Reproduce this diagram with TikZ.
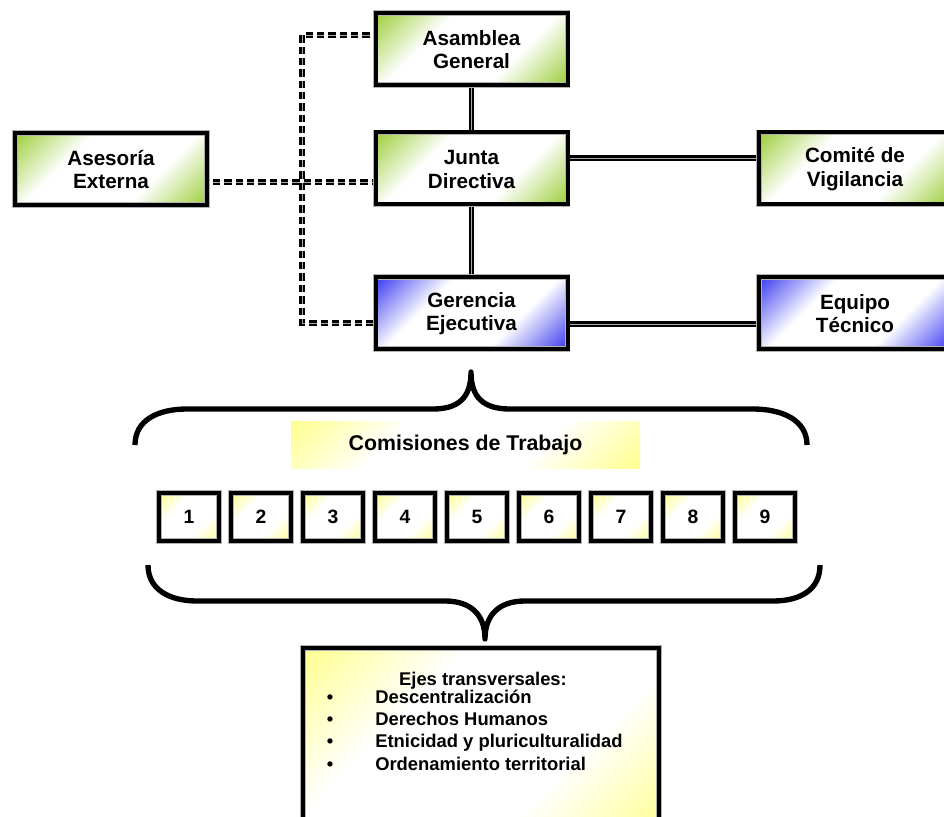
\documentclass[tikz,border=0pt]{standalone}
\usepackage{fontspec}
\setmainfont{Liberation Sans}
\definecolor{grn}{RGB}{153,204,51}
\definecolor{blu}{RGB}{51,51,240}
\definecolor{yel}{RGB}{255,255,140}
\pgfdeclarehorizontalshading{gshade}{100bp}{color(0bp)=(grn); color(14bp)=(grn); color(36bp)=(white); color(64bp)=(white); color(86bp)=(grn); color(100bp)=(grn)}
\pgfdeclarehorizontalshading{bshade}{100bp}{color(0bp)=(blu); color(14bp)=(blu); color(36bp)=(white); color(64bp)=(white); color(86bp)=(blu); color(100bp)=(blu)}
\pgfdeclarehorizontalshading{yshade}{100bp}{color(0bp)=(yel); color(14bp)=(yel); color(36bp)=(white); color(64bp)=(white); color(86bp)=(yel); color(100bp)=(yel)}
\pgfdeclarelayer{back}
\pgfdeclarelayer{bg}
\pgfsetlayers{back,bg,main}
\tikzset{
 box/.style={draw=gray!60, double=black, double distance=3pt, line width=0.6pt, inner sep=0pt, outer sep=0pt, align=center, font=\fontsize{15.5}{17.5}\selectfont\bfseries, minimum width=144pt, minimum height=54pt, shading angle=-45},
 greenbox/.style={box, shading=gshade},
 bluebox/.style={box, shading=bshade},
 numbox/.style={box, shading=yshade, minimum width=45pt, minimum height=36pt, font=\fontsize{14.5}{16}\selectfont\bfseries},
 link/.style={draw=black, double=gray!70, double distance=0.4pt, line width=1.8pt},
 dlink/.style={link, dash pattern=on 5.5pt off 3pt},
 brace/.style={line width=4pt, line cap=butt, line join=round},
 etext/.style={inner sep=0pt, font=\fontsize{13.8}{15}\selectfont\bfseries}
}
\begin{document}
\begin{tikzpicture}[x=0.75pt,y=-0.75pt]
\useasboundingbox (0,0) rectangle (944,816);
\clip (0,0) rectangle (944,816);
\begin{pgfonlayer}{back}
\fill[white] (0,0) rectangle (944,816);
\end{pgfonlayer}

\node[greenbox] (AG) at (471.5,49) {\strut Asamblea\\General};
\node[greenbox] (JD) at (471.5,168.5) {\strut Junta\\Directiva};
\node[greenbox] (AE) at (111,169) {\strut Asesoría\\Externa};
\node[greenbox] (CV) at (855,168.5) {\strut Comité de\\Vigilancia};
\node[bluebox] (GE) at (471.5,313) {\strut Gerencia\\Ejecutiva};
\node[bluebox] (ET) at (855,313) {\strut Equipo\\Técnico};

\coordinate (y1) at (0,158);
\coordinate (y2) at (0,324);
\coordinate (dt) at (302,35);
\coordinate (db) at (302,323);
\coordinate (dm) at (0,182);
\begin{pgfonlayer}{bg}
\draw[link] (AG.center) -- (JD.center);
\draw[link] (JD.center) -- (GE.center);
\draw[link] (JD.center |- y1) -- (CV.center |- y1);
\draw[link] (GE.center |- y2) -- (ET.center |- y2);
\draw[dlink] (AG.center |- dt) -- (dt) -- (db) -- (GE.center |- db);
\draw[dlink] (AE.center |- dm) -- (JD.center |- dm);
\end{pgfonlayer}

% top brace
\draw[brace] (135,445) .. controls (135,420) and (158,409) .. (187,409) -- (433,409)
  .. controls (458,409) and (471,398) .. (471,372)
  .. controls (471,398) and (484,409) .. (510,409) -- (753,409)
  .. controls (782,409) and (807,420) .. (807,445);

\node[shading=yshade, shading angle=-45, minimum width=261.75pt, minimum height=35.25pt, inner sep=0pt, font=\fontsize{16}{18}\selectfont\bfseries] (CT) at (465.5,444.5) {Comisiones de Trabajo};

\foreach \i in {1,...,9}{
  \node[numbox] (n\i) at ({189+72*(\i-1)},517) {\i};
}

% bottom brace
\draw[brace] (148,565) .. controls (148,590) and (170,601) .. (197,601) -- (445,601)
  .. controls (470,601) and (485,614) .. (485,639)
  .. controls (485,614) and (500,601) .. (525,601) -- (773,601)
  .. controls (800,601) and (820,590) .. (820,565);

\node[box, shading=yshade, minimum width=267pt, minimum height=144pt] (EJ) at (481,744) {};
\node[etext, anchor=base] (ejt) at (483,685) {Ejes transversales:};
\node[etext, anchor=base] (b1) at (330,703) {\textbullet};
\node[etext, anchor=base] (b2) at (330,725) {\textbullet};
\node[etext, anchor=base] (b3) at (330,747) {\textbullet};
\node[etext, anchor=base] (b4) at (330,770) {\textbullet};
\node[etext, anchor=base west] (i1) at (375,703) {Descentralización};
\node[etext, anchor=base west] (i2) at (375,725) {Derechos Humanos};
\node[etext, anchor=base west] (i3) at (375,747) {Etnicidad y pluriculturalidad};
\node[etext, anchor=base west] (i4) at (375,770) {Ordenamiento territorial};
\end{tikzpicture}
\end{document}
